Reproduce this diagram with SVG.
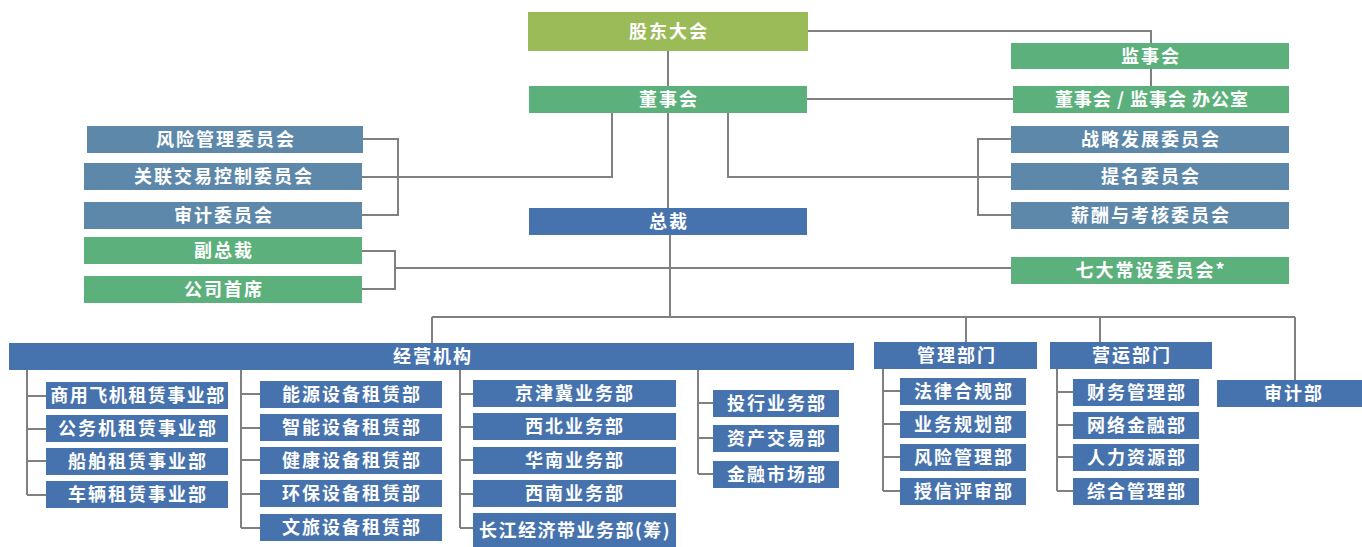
<svg xmlns="http://www.w3.org/2000/svg" width="1362" height="547" viewBox="0 0 1362 547">
<style>
.g{fill:#5BB07B}.o{fill:#9BBB59}.b{fill:#4672AD}.s{fill:#5D88AA}
text{font-family:"Noto Sans CJK SC","Liberation Sans",sans-serif;font-size:18px;font-weight:bold;fill:#fff;text-anchor:middle;letter-spacing:2px}
.c path{fill:none;stroke:#808080;stroke-width:2}
</style>
<rect width="1362" height="547" fill="#fff"/>
<g class="c" id="connectors">
<path d="M668,51V208"/>
<path d="M670,235V317"/>
<path d="M432,317H1295M432,317V343M966,317V342M1100,317V342M1295,317V380"/>
<path d="M808,31H1151V43M1151,69V86"/>
<path d="M807,99H1013"/>
<path d="M612,113V177H362M362,139H398V215H362"/>
<path d="M728,113V177H1011M1011,139H978V215H1011"/>
<path d="M362,251H395V289H362M395,268H1011"/>
<path d="M27,370V495M27,396H46M27,429H46M27,461H46M27,495H46"/>
<path d="M241,370V528M241,394H260M241,428H260M241,460H260M241,494H260M241,528H260"/>
<path d="M460,370V528M460,394H473M460,427H473M460,460H473M460,494H473M460,528H473"/>
<path d="M698,370V474M698,403H713M698,438H713M698,474H713"/>
<path d="M883,369V491M883,391H900M883,424H900M883,457H900M883,491H900"/>
<path d="M1057,369V491M1057,392H1073M1057,425H1073M1057,457H1073M1057,491H1073"/>
</g>
<g id="n-gudong"><rect class="o" x="528" y="12" width="280" height="39"/><text x="669" y="38">股东大会</text></g>
<g id="n-dongshihui"><rect class="g" x="529" y="86" width="278" height="27"/><text x="669" y="106">董事会</text></g>
<g id="n-zongcai"><rect class="b" x="529" y="208" width="278" height="27"/><text x="669" y="228">总裁</text></g>
<g id="n-jianshihui"><rect class="g" x="1011" y="43" width="278" height="26"/><text x="1151" y="62.5">监事会</text></g>
<g id="n-bangongshi"><rect class="g" x="1013" y="86" width="276" height="27"/><text x="1152" y="106" style="letter-spacing:1px">董事会 / 监事会 办公室</text></g>
<g id="n-zhanlue"><rect class="s" x="1011" y="126" width="278" height="27"/><text x="1151" y="146">战略发展委员会</text></g>
<g id="n-timing"><rect class="s" x="1011" y="163" width="278" height="27"/><text x="1151" y="183">提名委员会</text></g>
<g id="n-xinchou"><rect class="s" x="1011" y="202" width="278" height="27"/><text x="1151" y="222">薪酬与考核委员会</text></g>
<g id="n-qida"><rect class="g" x="1011" y="257" width="278" height="27"/><text x="1151" y="277">七大常设委员会*</text></g>
<g id="n-fengxianwei"><rect class="s" x="87" y="126" width="276" height="27"/><text x="226" y="146">风险管理委员会</text></g>
<g id="n-guanlian"><rect class="s" x="84" y="163" width="278" height="27"/><text x="224" y="183">关联交易控制委员会</text></g>
<g id="n-shenjiwei"><rect class="s" x="84" y="202" width="278" height="27"/><text x="224" y="222">审计委员会</text></g>
<g id="n-fuzongcai"><rect class="g" x="84" y="237" width="278" height="27"/><text x="224" y="257">副总裁</text></g>
<g id="n-shouxi"><rect class="g" x="84" y="276" width="278" height="27"/><text x="224" y="296">公司首席</text></g>
<g id="n-jingying"><rect class="b" x="9" y="343" width="845" height="27"/><text x="433" y="363">经营机构</text></g>
<g id="n-guanli"><rect class="b" x="874" y="342" width="163" height="27"/><text x="957" y="362">管理部门</text></g>
<g id="n-yingyun"><rect class="b" x="1050" y="342" width="162" height="27"/><text x="1132" y="362">营运部门</text></g>
<g id="n-shenjibu"><rect class="b" x="1217" y="380" width="145" height="27"/><text x="1294" y="400">审计部</text></g>
<g id="n-c1a"><rect class="b" x="46" y="382" width="182" height="27"/><text x="138" y="402" style="letter-spacing:1.5px">商用飞机租赁事业部</text></g>
<g id="n-c1b"><rect class="b" x="46" y="415" width="182" height="27"/><text x="138" y="435">公务机租赁事业部</text></g>
<g id="n-c1c"><rect class="b" x="46" y="448" width="182" height="27"/><text x="138" y="468">船舶租赁事业部</text></g>
<g id="n-c1d"><rect class="b" x="46" y="481" width="182" height="27"/><text x="138" y="501">车辆租赁事业部</text></g>
<g id="n-c2a"><rect class="b" x="260" y="381" width="182" height="27"/><text x="352" y="401">能源设备租赁部</text></g>
<g id="n-c2b"><rect class="b" x="260" y="414" width="182" height="27"/><text x="352" y="434">智能设备租赁部</text></g>
<g id="n-c2c"><rect class="b" x="260" y="447" width="182" height="27"/><text x="352" y="467">健康设备租赁部</text></g>
<g id="n-c2d"><rect class="b" x="260" y="480" width="182" height="27"/><text x="352" y="500">环保设备租赁部</text></g>
<g id="n-c2e"><rect class="b" x="260" y="514" width="182" height="27"/><text x="352" y="534">文旅设备租赁部</text></g>
<g id="n-c3a"><rect class="b" x="473" y="380" width="203" height="27"/><text x="575" y="400">京津冀业务部</text></g>
<g id="n-c3b"><rect class="b" x="473" y="413" width="203" height="27"/><text x="575" y="433">西北业务部</text></g>
<g id="n-c3c"><rect class="b" x="473" y="447" width="203" height="27"/><text x="575" y="467">华南业务部</text></g>
<g id="n-c3d"><rect class="b" x="473" y="480" width="203" height="27"/><text x="575" y="500">西南业务部</text></g>
<g id="n-c3e"><rect class="b" x="473" y="513" width="203" height="34"/><text x="575" y="537" style="letter-spacing:1.5px">长江经济带业务部(筹)</text></g>
<g id="n-c4a"><rect class="b" x="713" y="390" width="126" height="27"/><text x="777" y="410">投行业务部</text></g>
<g id="n-c4b"><rect class="b" x="713" y="425" width="126" height="27"/><text x="777" y="445">资产交易部</text></g>
<g id="n-c4c"><rect class="b" x="713" y="461" width="126" height="27"/><text x="777" y="481">金融市场部</text></g>
<g id="n-m1"><rect class="b" x="900" y="378" width="126" height="27"/><text x="964" y="398">法律合规部</text></g>
<g id="n-m2"><rect class="b" x="900" y="411" width="126" height="27"/><text x="964" y="431">业务规划部</text></g>
<g id="n-m3"><rect class="b" x="900" y="444" width="126" height="27"/><text x="964" y="464">风险管理部</text></g>
<g id="n-m4"><rect class="b" x="900" y="478" width="126" height="27"/><text x="964" y="498">授信评审部</text></g>
<g id="n-y1"><rect class="b" x="1073" y="379" width="126" height="27"/><text x="1137" y="399">财务管理部</text></g>
<g id="n-y2"><rect class="b" x="1073" y="412" width="126" height="27"/><text x="1137" y="432">网络金融部</text></g>
<g id="n-y3"><rect class="b" x="1073" y="444" width="126" height="27"/><text x="1137" y="464">人力资源部</text></g>
<g id="n-y4"><rect class="b" x="1073" y="478" width="126" height="27"/><text x="1137" y="498">综合管理部</text></g>
</svg>
